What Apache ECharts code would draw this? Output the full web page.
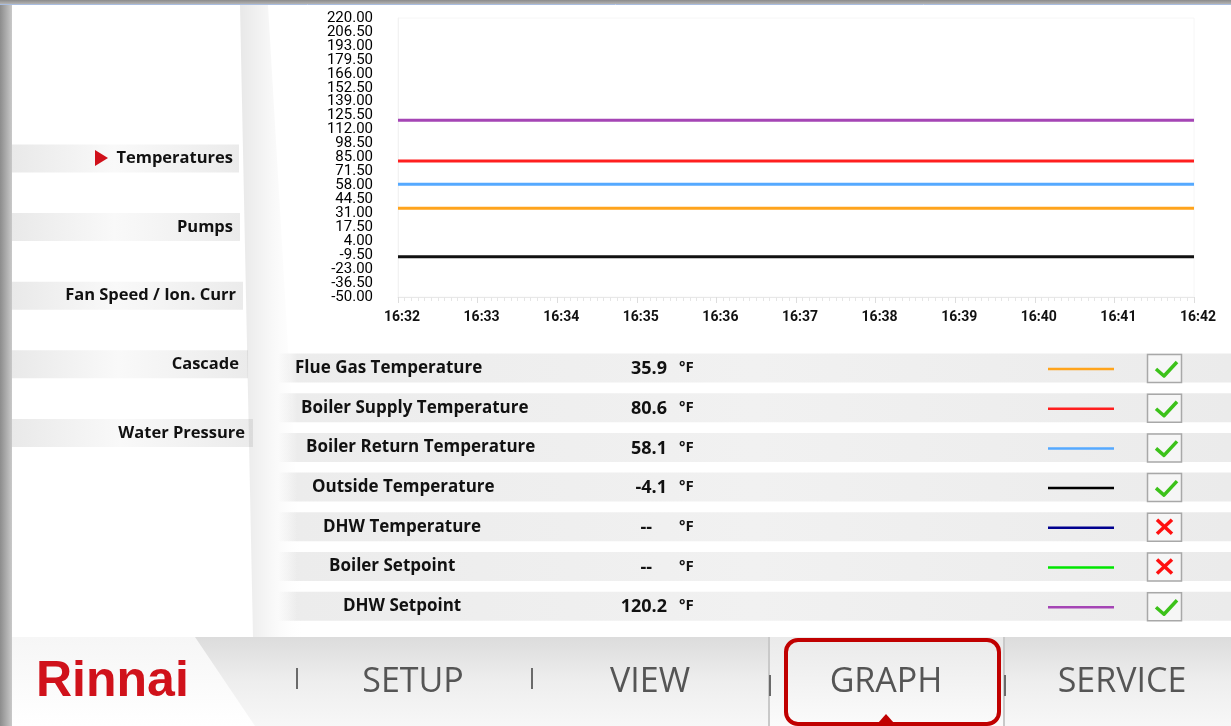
<!doctype html>
<html>
<head>
<meta charset="utf-8">
<title>Rinnai - Graph</title>
<style>
html, body { margin: 0; padding: 0; background: #fff; }
#main { width: 1231px; height: 726px; }
</style>
</head>
<body>
<div id="main"></div>
<script src="https://cdn.jsdelivr.net/npm/echarts@6/dist/echarts.min.js"></script>
<script>
// ---- data ----
var times = ['16:32', '16:33', '16:34', '16:35', '16:36', '16:37', '16:38', '16:39', '16:40', '16:41', '16:42'];
var yTicks = [-50, -36.5, -23, -9.5, 4, 17.5, 31, 44.5, 58, 71.5, 85, 98.5, 112, 125.5, 139, 152.5, 166, 179.5, 193, 206.5, 220];

// one sample per minute, lines are flat over the window
var flueGas      = [36, 36, 36, 36, 36, 36, 36, 36, 36, 36, 36];
var boilerSupply = [81.5, 81.5, 81.5, 81.5, 81.5, 81.5, 81.5, 81.5, 81.5, 81.5, 81.5];
var boilerReturn = [59, 59, 59, 59, 59, 59, 59, 59, 59, 59, 59];
var outsideTemp  = [-11, -11, -11, -11, -11, -11, -11, -11, -11, -11, -11];
var dhwSetpoint  = [121, 121, 121, 121, 121, 121, 121, 121, 121, 121, 121];

var menuItems = ['Temperatures', 'Pumps', 'Fan Speed / Ion. Curr', 'Cascade', 'Water Pressure'];
var rowNames = ['Flue Gas Temperature', 'Boiler Supply Temperature', 'Boiler Return Temperature',
                'Outside Temperature', 'DHW Temperature', 'Boiler Setpoint', 'DHW Setpoint'];
var rowValues = ['35.9', '80.6', '58.1', '-4.1', '--', '--', '120.2'];
var rowEnabled = [true, true, true, true, false, false, true];
var navItems = ['SETUP', 'VIEW', 'GRAPH', 'SERVICE'];

// ---- colours / layout ----
var rowColors = ['#ffa41c', '#ff1f1f', '#55a9ff', '#000000', '#00008f', '#00e600', '#a545b5'];
var rowIndent = [295, 301, 306, 312, 323, 329, 343];
var menuTextRight = [233, 233, 236, 239, 245];
var menuBarRight = [239, 240, 243, 248, 253];
var navCenters = [413, 650, 886, 1122];
var navSeps = [297, 532, 770, 1005];
var boldFont = '"Open Sans", "DejaVu Sans", sans-serif';

var myChart = echarts.init(document.getElementById('main'));

function pairs(arr) {
    return arr.map(function (v, i) { return [i, v]; });
}

var g = [];

// screen frame
g.push({ type: 'rect', shape: { x: 0, y: 0, width: 12, height: 726 }, z: 10,
    style: { fill: new echarts.graphic.LinearGradient(0, 0, 1, 0, [{ offset: 0, color: '#8c8c8c' }, { offset: 1, color: '#c9c9c9' }]) } });
g.push({ type: 'rect', shape: { x: 0, y: 0, width: 1231, height: 4 }, z: 10,
    style: { fill: new echarts.graphic.LinearGradient(0, 0, 0, 1, [{ offset: 0, color: '#8a8a8a' }, { offset: 1, color: '#b4b4b4' }]) } });
g.push({ type: 'line', shape: { x1: 0, y1: 4.5, x2: 1231, y2: 4.5 }, z: 10, style: { stroke: '#a9bde0', lineWidth: 1 } });

// left menu
menuItems.forEach(function (name, i) {
    var cy = 158.5 + i * 68.6;
    g.push({ type: 'rect', shape: { x: 12, y: cy - 14, width: menuBarRight[i] - 12, height: 28 },
        style: { fill: new echarts.graphic.LinearGradient(0, 0, 1, 0, [
            { offset: 0, color: '#e9e9e9' }, { offset: 0.45, color: '#f9f9f9' }, { offset: 1, color: '#ebebeb' }]) } });
    g.push({ type: 'text', x: menuTextRight[i], y: cy,
        style: { text: name, font: 'bold 16.5px ' + boldFont, fill: '#111', align: 'right', verticalAlign: 'middle' } });
});
g.push({ type: 'polygon', shape: { points: [[95, 150], [108, 158], [95, 166]] }, style: { fill: '#d0101a' } });

// table rows
rowNames.forEach(function (name, i) {
    var cy = 368 + i * 39.7;
    g.push({ type: 'rect', shape: { x: 278, y: cy - 14.5, width: 953, height: 29 },
        style: { fill: new echarts.graphic.LinearGradient(0, 0, 1, 0, [
            { offset: 0, color: 'rgba(236,236,236,0)' }, { offset: 0.02, color: '#ececec' },
            { offset: 0.5, color: '#f1f1f1' }, { offset: 1, color: '#ebebeb' }]) } });
    g.push({ type: 'text', x: rowIndent[i], y: cy,
        style: { text: name, font: 'bold 17px ' + boldFont, fill: '#111', verticalAlign: 'middle' } });
    g.push({ type: 'text', x: rowValues[i] === '--' ? 652 : 667, y: cy + 1,
        style: { text: rowValues[i], font: 'bold 18px ' + boldFont, fill: '#111', align: 'right', verticalAlign: 'middle' } });
    g.push({ type: 'text', x: 679, y: cy,
        style: { text: '°F', font: 'bold 15px ' + boldFont, fill: '#111', verticalAlign: 'middle' } });
    g.push({ type: 'line', shape: { x1: 1048, y1: cy + 1, x2: 1114, y2: cy + 1 },
        style: { stroke: rowColors[i], lineWidth: 2.5 } });
    g.push({ type: 'rect', shape: { x: 1147.5, y: cy - 13.5, width: 34, height: 28 },
        style: { fill: '#f6f6f6', stroke: '#a8a8a8', lineWidth: 1.5 } });
    if (rowEnabled[i]) {
        g.push({ type: 'polyline', shape: { points: [[1156, cy + 1], [1164, cy + 8], [1177, cy - 6]] },
            style: { stroke: '#3cc21a', lineWidth: 3.5, fill: null, lineJoin: 'round' } });
    } else {
        g.push({ type: 'line', shape: { x1: 1157, y1: cy - 7, x2: 1172, y2: cy + 7 }, style: { stroke: '#ff1010', lineWidth: 3.5 } });
        g.push({ type: 'line', shape: { x1: 1172, y1: cy - 7, x2: 1157, y2: cy + 7 }, style: { stroke: '#ff1010', lineWidth: 3.5 } });
    }
});

// page-curl shadow between menu and content
g.push({ type: 'polygon', shape: { points: [[240, 5], [268, 5], [305, 637], [253, 637]] },
    style: { fill: new echarts.graphic.LinearGradient(0, 0, 1, 0, [
        { offset: 0, color: 'rgba(0,0,0,0.09)' }, { offset: 0.4, color: 'rgba(0,0,0,0.04)' }, { offset: 1, color: 'rgba(255,255,255,0)' }]) } });

// bottom navigation
g.push({ type: 'rect', shape: { x: 12, y: 637, width: 1219, height: 89 },
    style: { fill: new echarts.graphic.LinearGradient(0, 0, 0, 1, [
        { offset: 0, color: '#dcdcdc' }, { offset: 0.5, color: '#eeeeee' }, { offset: 1, color: '#f7f7f7' }]) } });
g.push({ type: 'polygon', shape: { points: [[12, 637], [195, 637], [255, 726], [12, 726]] },
    style: { fill: new echarts.graphic.LinearGradient(0, 0, 0, 1, [{ offset: 0, color: '#f6f6f6' }, { offset: 1, color: '#ffffff' }]) } });
g.push({ type: 'rect', shape: { x: 770, y: 637, width: 235, height: 89 },
    style: { fill: new echarts.graphic.LinearGradient(0, 0, 0, 1, [{ offset: 0, color: '#eaeaea' }, { offset: 1, color: '#fbfbfb' }]) } });
[769, 1004].forEach(function (x) {
    g.push({ type: 'line', shape: { x1: x, y1: 637, x2: x, y2: 726 }, style: { stroke: '#c9c9c9', lineWidth: 2 } });
});
navSeps.forEach(function (x, i) {
    var y0 = i < 2 ? 668 : 675;
    g.push({ type: 'line', shape: { x1: x, y1: y0, x2: x, y2: y0 + 21 }, style: { stroke: '#6a6a6a', lineWidth: 2 } });
});
g.push({ type: 'text', x: 36, y: 682,
    style: { text: 'Rinnai', font: 'bold 50px "Liberation Sans", Arial, sans-serif', fill: '#d0121b', verticalAlign: 'middle' } });
navItems.forEach(function (name, i) {
    g.push({ type: 'text', x: navCenters[i], y: 682,
        style: { text: name, font: '34px "Open Sans", sans-serif', fill: '#555', align: 'center', verticalAlign: 'middle' } });
});
g.push({ type: 'rect', shape: { x: 786, y: 640, width: 213, height: 84, r: 12 },
    style: { fill: null, stroke: '#c00000', lineWidth: 4 } });
g.push({ type: 'polygon', shape: { points: [[878, 723], [886, 714], [894, 723]] }, style: { fill: '#c00000' } });

var lineSeries = [
    { name: 'Flue Gas Temperature', data: flueGas, color: rowColors[0] },
    { name: 'Boiler Supply Temperature', data: boilerSupply, color: rowColors[1] },
    { name: 'Boiler Return Temperature', data: boilerReturn, color: rowColors[2] },
    { name: 'Outside Temperature', data: outsideTemp, color: '#111' },
    { name: 'DHW Setpoint', data: dhwSetpoint, color: rowColors[6] }
].map(function (s) {
    return {
        type: 'line', name: s.name, data: pairs(s.data), showSymbol: false, silent: true,
        yAxisIndex: 0, lineStyle: { color: s.color, width: 3 }, z: 3
    };
});

// labels sit 13.5 apart and touch each other; split them over two
// overlaid axes so ECharts does not drop the ones next to min / max
function yAxisWith(values, showLine) {
    return {
        type: 'value', min: -50, max: 220, position: 'left',
        axisLine: { show: showLine, onZero: false, lineStyle: { color: '#f2f2f2' } },
        axisTick: { show: false },
        splitLine: { show: false },
        axisLabel: {
            customValues: values, showMinLabel: true, showMaxLabel: true,
            margin: 25, color: '#000', fontFamily: 'Roboto', fontSize: 15,
            formatter: function (v) { return v.toFixed(2); }
        }
    };
}

myChart.setOption({
    animation: false,
    backgroundColor: '#fff',
    grid: { left: 398, right: 37, top: 18, bottom: 429, show: true, borderColor: '#f6f6f6', borderWidth: 1 },
    xAxis: {
        type: 'value', min: 0, max: 10, interval: 1,
        axisLine: { onZero: false, lineStyle: { color: '#e8e8e8' } },
        axisTick: { show: true, length: 6, lineStyle: { color: '#dddddd' } },
        minorTick: { show: true, splitNumber: 12, length: 4, lineStyle: { color: '#e6e6e6' } },
        splitLine: { show: false },
        axisLabel: {
            margin: 13, color: '#111', fontFamily: 'Roboto', fontSize: 14, fontWeight: 'bold',
            padding: [0, 0, 0, 8],
            formatter: function (v) { return times[v]; }
        }
    },
    yAxis: [
        yAxisWith(yTicks.filter(function (v, i) { return i % 2 === 0; }), true),
        yAxisWith(yTicks.filter(function (v, i) { return i % 2 === 1; }), false)
    ],
    series: lineSeries,
    graphic: g
});
</script>
</body>
</html>
